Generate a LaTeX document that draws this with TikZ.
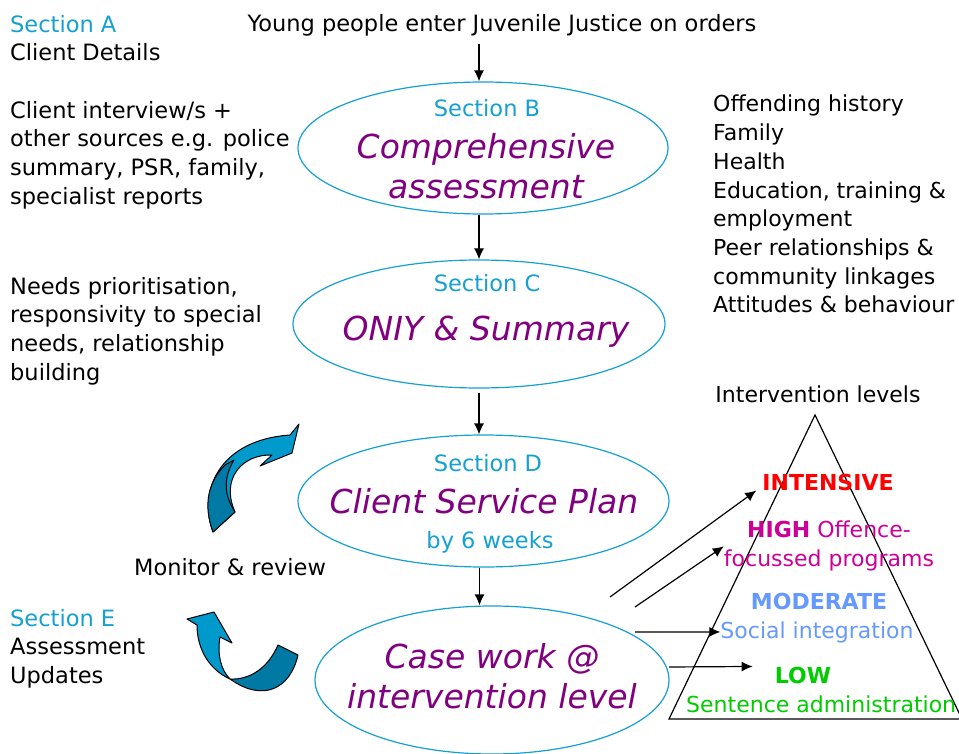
\documentclass[tikz,border=0pt]{standalone}
\usepackage{fontspec}
\setmainfont{DejaVu Sans}
\usepackage{tikz}
\usetikzlibrary{arrows.meta}
\usetikzlibrary{shapes.geometric}

\definecolor{secblue}{RGB}{20,160,210}
\definecolor{stagepurple}{RGB}{128,0,128}
\definecolor{intred}{RGB}{255,0,0}
\definecolor{highpink}{RGB}{204,0,153}
\definecolor{modblue}{RGB}{102,153,255}
\definecolor{lowgreen}{RGB}{0,204,0}
\definecolor{turnlight}{RGB}{0,153,204}
\definecolor{turndark}{RGB}{0,121,165}

\begin{document}
\begin{tikzpicture}[x=1pt, y=-1pt,
	stage/.style={ellipse, draw=secblue, line width=1.2pt, inner sep=0pt},
	sectxt/.style={text=secblue, font=\fontsize{22.5}{28.7}\selectfont, anchor=base, inner sep=0pt},
	stagetxt/.style={text=stagepurple, font=\fontsize{33}{40}\selectfont\itshape, align=center, anchor=north, inner sep=0pt},
	note/.style={font=\fontsize{22.5}{28.7}\selectfont, align=left, anchor=north west, inner sep=0pt},
	lvl/.style={font=\fontsize{22}{29}\selectfont, anchor=base, inner sep=0pt},
	flow/.style={-{Latex[length=11pt,width=10pt]}, line width=1.2pt},
	turn/.style={draw=black, line width=1pt, line join=round}]

\useasboundingbox (0,0) rectangle (959,754);

\node[lvl, inner ysep=7pt, font=\fontsize{22.5}{29}\selectfont] (young) at (502,32) {Young people enter Juvenile Justice on orders};

\node[note] (secA) at (10,15) {\textcolor{secblue}{Section A}\\Client Details};
\node[note] (sources) at (10,101) {Client interview/s +\\other sources e.g. police\\summary, PSR, family,\\specialist reports};
\node[note] (needs) at (10,277) {Needs prioritisation,\\responsivity to special\\needs, relationship\\building};
\node[note, font=\fontsize{22}{28.7}\selectfont] (domains) at (713,95) {Offending history\\Family\\Health\\Education, training \&\\employment\\Peer relationships \&\\community linkages\\Attitudes \& behaviour};
\node[note] (secE) at (10,609) {\textcolor{secblue}{Section E}\\Assessment\\Updates};
\node[lvl, font=\fontsize{22.5}{29}\selectfont] (monitor) at (230,575) {Monitor \& review};

\node[stage, minimum width=370pt, minimum height=132pt] (B) at (483,148) {};
\node[sectxt] (Bsec) at (487,117) {Section B};
\node[stagetxt] (Btxt) at (486,133) {Comprehensive\\assessment};

\node[stage, minimum width=372pt, minimum height=128pt] (C) at (479,324) {};
\node[sectxt] (Csec) at (487,291) {Section C};
\node[stagetxt, anchor=base] (Ctxt) at (486,340) {ONIY \& Summary};

\node[stage, minimum width=371pt, minimum height=132pt] (D) at (483.5,501) {};
\node[sectxt] (Dsec) at (488,471) {Section D};
\node[stagetxt, anchor=base] (Dtxt) at (484,513) {Client Service Plan};
\node[sectxt] (Dweeks) at (490,548) {by 6 weeks};

\node[stage, minimum width=354pt, minimum height=148pt] (E) at (492,680) {};
\node[stagetxt] (Etxt) at (492,643) {Case work @\\intervention level};

\draw[flow] ([xshift=-4pt]B.north |- young.south) -- ([xshift=-4pt]B.north);
\draw[flow] ([xshift=-4pt]B.south) -- ([xshift=-4pt]B.south |- C.north);
\draw[flow, shorten <=4pt] (C.south) -- (C.south |- D.north);
\draw[flow] ([xshift=-4pt]D.south) -- ([xshift=-4pt]D.south |- E.north);

\draw[line width=1.2pt] (815,415) -- (669,719) -- (962,719) -- cycle;
\node[lvl] (levels) at (818,402) {Intervention levels};
\node[lvl, text=intred, font=\fontsize{22}{29}\selectfont\bfseries] (intensive) at (828,490) {INTENSIVE};
\node[lvl, text=highpink, align=center, anchor=north] (high) at (829,521) {{\bfseries HIGH} Offence-\\focussed programs};
\node[lvl, text=modblue, font=\fontsize{22}{29}\selectfont\bfseries] (moderate) at (819,609) {MODERATE};
\node[lvl, text=modblue] (social) at (817,638) {Social integration};
\node[lvl, text=lowgreen, font=\fontsize{22}{29}\selectfont\bfseries] (low) at (803,683) {LOW};
\node[lvl, text=lowgreen, anchor=base west] (sentence) at (686,712) {Sentence administration};

\coordinate (s1) at (610,597);
\coordinate (s2) at (635,607);
\coordinate (s3) at (635,632);
\coordinate (s4) at (669,667);
\draw[flow] (s1) -- ([xshift=-6pt]intensive.south west);
\draw[flow] (s2) -- (high.west);
\draw[flow] (s3) -- (social.west);
\draw[flow] (s4) -- ([xshift=-22pt]low.north west);

\filldraw[turn, fill=turnlight] (213,532) .. controls (198,492) and (218,440) .. (290,435)
	-- (299,424) -- (292,453) -- (260,466) -- (272,455)
	.. controls (243,454) and (220,478) .. (235,512) -- cycle;
\filldraw[turn, fill=turndark] (213,532) .. controls (203,505) and (208,482) .. (225,465)
	-- (234,460) .. controls (223,478) and (224,495) .. (235,512) -- cycle;

\filldraw[turn, fill=turndark] (230,679) .. controls (250,680) and (268,668) .. (278,645)
	-- (298,655) .. controls (290,690) and (262,702) .. (230,679) -- cycle;
\filldraw[turn, fill=turnlight] (197,625) -- (187,619) -- (214,612) -- (232,643) -- (220,637)
	.. controls (217,655) and (221,670) .. (230,679)
	.. controls (210,670) and (197,650) .. (197,625) -- cycle;
\end{tikzpicture}
\end{document}
